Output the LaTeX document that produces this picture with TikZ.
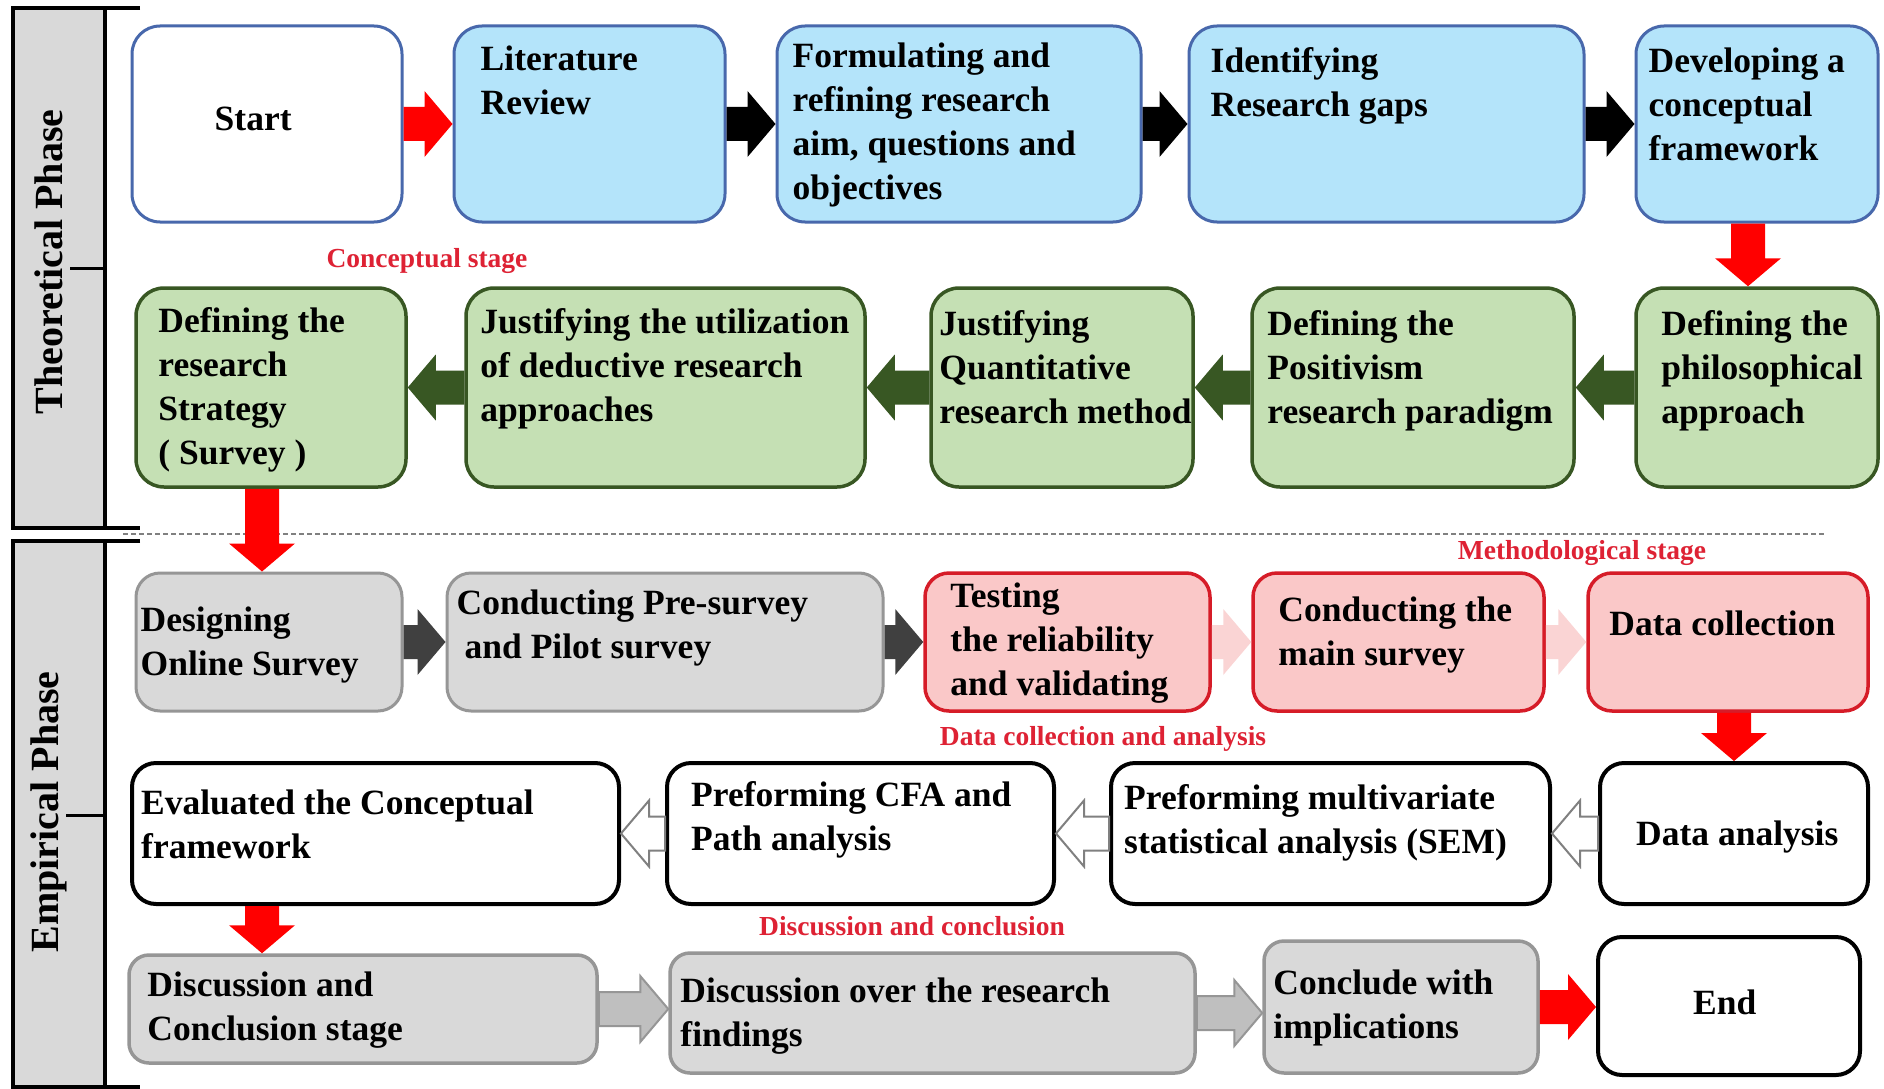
\documentclass[tikz,border=0pt]{standalone}
\usepackage{fontspec}
\setmainfont{Liberation Serif}
\usetikzlibrary{calc}

\definecolor{blueFill}{RGB}{180,228,250}
\definecolor{blueLine}{RGB}{72,104,172}
\definecolor{greenFill}{RGB}{197,224,180}
\definecolor{greenLine}{RGB}{56,87,35}
\definecolor{grayFill}{RGB}{217,217,217}
\definecolor{grayLine}{RGB}{150,150,150}
\definecolor{pinkFill}{RGB}{250,200,200}
\definecolor{pinkLine}{RGB}{214,28,40}
\definecolor{pinkArrow}{RGB}{250,212,212}
\definecolor{stageRed}{RGB}{222,34,52}
\definecolor{arrowRed}{RGB}{255,0,0}
\definecolor{arrowDark}{RGB}{64,64,64}
\definecolor{arrowGray}{RGB}{191,191,191}

% block arrow from #2 to #3 (tip at #3)
\newcommand{\blockarrow}[3][]{%
  \coordinate (ba-s) at (#2);
  \coordinate (ba-t) at (#3);
  \coordinate (ba-m) at ($(ba-t)!28pt!(ba-s)$);
  \path[#1] ($(ba-s)!17pt!90:(ba-t)$) -- ($(ba-m)!17pt!-90:(ba-s)$)
    -- ($(ba-m)!33pt!-90:(ba-s)$) -- (ba-t) -- ($(ba-m)!33pt!90:(ba-s)$)
    -- ($(ba-m)!17pt!90:(ba-s)$) -- ($(ba-s)!17pt!-90:(ba-t)$) -- cycle;
}

\begin{document}
\begin{tikzpicture}[x=1pt, y=-1pt,
    sz/.style 2 args={minimum width=#1pt, minimum height=#2pt, inner sep=0pt},
    txt/.style={anchor=north west, align=left, inner sep=0pt,
      font=\fontsize{35.5}{44}\selectfont\bfseries},
    bluebox/.style={draw=blueLine, fill=blueFill, line width=3pt, rounded corners=28pt},
    greenbox/.style={draw=greenLine, fill=greenFill, line width=3.5pt, rounded corners=28pt},
    graybox/.style={draw=grayLine, fill=grayFill, line width=3pt, rounded corners=24pt},
    pinkbox/.style={draw=pinkLine, fill=pinkFill, line width=3.5pt, rounded corners=24pt},
    whitebox/.style={draw=black, fill=white, line width=4pt, rounded corners=24pt},
    stage/.style={text=stageRed, font=\fontsize{27.5}{30}\selectfont\bfseries},
    phase/.style={rotate=90, font=\fontsize{40}{48}\selectfont\bfseries},
    hollow/.style={draw=gray, fill=white, line width=2pt},
    grayarrow/.style={draw=grayLine, fill=arrowGray, line width=2pt}]

    \path[use as bounding box, fill=white] (0,0) rectangle (1884,1089);

    % phase bars on the left
    \fill[grayFill] (13,8) rectangle (105,528);
    \fill[grayFill] (13,541) rectangle (105,1087);
    \draw[line width=3.5pt] (140,8) -- (13,8) -- (13,528) -- (140,528);
    \draw[line width=3.5pt] (140,541) -- (13,541) -- (13,1087) -- (140,1087);
    \draw[line width=4pt] (105,8) -- (105,528);
    \draw[line width=4pt] (105,541) -- (105,1087);
    \draw[line width=3pt] (70,268) -- (105,268);
    \draw[line width=3pt] (66,815) -- (105,815);
    \node[phase] (theo) at (49,262) {Theoretical Phase};
    \node[phase] (emp) at (49,812) {Empirical Phase};
    \draw[gray, line width=1.5pt, dash pattern=on 5pt off 3pt] (123,534) -- (1826,534);

    % row 1
    \node[bluebox, fill=white, sz={270}{196}, label={[txt, xshift=84pt, yshift=-82pt]north west:{Start}}] (start) at (267,124) {};
    \node[bluebox, sz={271}{196}, label={[txt, xshift=28pt, yshift=-21pt]north west:{Literature\\Review}}] (lit) at (589.5,124) {};
    \node[bluebox, sz={364}{196}, label={[txt, xshift=17pt, yshift=-18pt]north west:{Formulating and\\refining research\\aim, questions and\\objectives}}] (form) at (959,124) {};
    \node[bluebox, sz={395}{196}, label={[txt, xshift=23pt, yshift=-23pt]north west:{Identifying\\Research gaps}}] (ident) at (1386.5,124) {};
    \node[bluebox, sz={242}{196}, label={[txt, xshift=14pt, yshift=-23pt]north west:{Developing a\\conceptual\\framework}}] (dev) at (1757,124) {};

    % row 2
    \node[greenbox, sz={270}{199}, label={[txt, xshift=24pt, yshift=-21pt]north west:{Defining the\\research\\Strategy\\( Survey )}}] (strat) at (271,387.5) {};
    \node[greenbox, sz={399}{199}, label={[txt, xshift=16pt, yshift=-22pt]north west:{Justifying the utilization\\of deductive research\\approaches}}] (deduct) at (665.5,387.5) {};
    \node[greenbox, sz={262}{199}, label={[txt, xshift=10pt, yshift=-24pt]north west:{Justifying\\Quantitative\\research method}}] (quant) at (1062,387.5) {};
    \node[greenbox, sz={322}{199}, label={[txt, xshift=17pt, yshift=-24pt]north west:{Defining the\\Positivism\\research paradigm}}] (posit) at (1413,387.5) {};
    \node[greenbox, sz={242}{199}, label={[txt, xshift=27pt, yshift=-24pt]north west:{Defining the\\philosophical\\approach}}] (philo) at (1757,387.5) {};

    % row 3
    \node[graybox, sz={266}{138}, label={[txt, xshift=6pt, yshift=-35pt]north west:{Designing\\Online Survey}}] (design) at (269,642) {};
    \node[graybox, sz={436}{138}, label={[txt, xshift=11pt, yshift=-18pt]north west:{Conducting Pre-survey\\\hspace*{8pt}and Pilot survey}}] (presurvey) at (665,642) {};
    \node[pinkbox, sz={285}{138}, label={[txt, xshift=27pt, yshift=-11pt]north west:{Testing\\the reliability\\and validating}}] (testing) at (1067.5,642) {};
    \node[pinkbox, sz={291}{138}, label={[txt, xshift=27pt, yshift=-25pt]north west:{Conducting the\\main survey}}] (mainsurv) at (1398.5,642) {};
    \node[pinkbox, sz={280}{138}, label={[txt, xshift=23pt, yshift=-39pt]north west:{Data collection}}] (datacoll) at (1728,642) {};

    % row 4
    \node[whitebox, sz={487}{141}, label={[txt, xshift=11pt, yshift=-29pt]north west:{Evaluated the Conceptual\\framework}}] (evaluated) at (375.5,833.5) {};
    \node[whitebox, sz={387}{141}, label={[txt, xshift=26pt, yshift=-20pt]north west:{Preforming CFA and\\Path analysis}}] (cfa) at (860.5,833.5) {};
    \node[whitebox, sz={439}{141}, label={[txt, xshift=15pt, yshift=-23pt]north west:{Preforming multivariate\\statistical analysis (SEM)}}] (sem) at (1330.5,833.5) {};
    \node[whitebox, sz={268}{141}, label={[txt, xshift=38pt, yshift=-60pt]north west:{Data analysis}}] (analysis) at (1734,833.5) {};

    % row 5
    \node[graybox, rounded corners=20pt, line width=3.5pt, sz={468}{108}, label={[txt, xshift=20pt, yshift=-18pt]north west:{Discussion and\\Conclusion stage}}] (discstage) at (363,1009) {};
    \node[graybox, rounded corners=20pt, line width=3.5pt, sz={525}{120}, label={[txt, xshift=12pt, yshift=-26pt]north west:{Discussion over the research\\findings}}] (findings) at (932.5,1013) {};
    \node[graybox, rounded corners=20pt, line width=3.5pt, sz={274}{132}, label={[txt, xshift=11pt, yshift=-30pt]north west:{Conclude with\\implications}}] (conclude) at (1401,1007) {};
    \node[whitebox, sz={262}{138}, label={[txt, xshift=97pt, yshift=-55pt]north west:{End}}] (finish) at (1729,1006) {};

    % stage captions
    \node[stage] (concept) at (427,261) {Conceptual stage};
    \node[stage] (method) at (1582,553) {Methodological stage};
    \node[stage] (dataca) at (1103,739) {Data collection and analysis};
    \node[stage] (discconc) at (912,926) {Discussion and conclusion};

    % arrows
    \coordinate (colA) at ([xshift=-9pt]strat.south);
    \blockarrow[fill=arrowRed]{start.east}{lit.west}
    \blockarrow[fill=black]{lit.east}{form.west}
    \blockarrow[fill=black]{form.east}{ident.west}
    \blockarrow[fill=black]{ident.east}{dev.west}
    \blockarrow[fill=arrowRed]{[xshift=-9pt]dev.south}{[xshift=-9pt]philo.north} % DOWN
    \blockarrow[fill=greenLine]{philo.west}{posit.east}
    \blockarrow[fill=greenLine]{posit.west}{quant.east}
    \blockarrow[fill=greenLine]{quant.west}{deduct.east}
    \blockarrow[fill=greenLine]{deduct.west}{strat.east}
    \blockarrow[fill=arrowRed]{colA}{colA |- design.north} % DOWN
    \blockarrow[fill=arrowDark]{design.east}{presurvey.west}
    \blockarrow[fill=arrowDark]{presurvey.east}{testing.west}
    \blockarrow[fill=pinkArrow]{testing.east}{mainsurv.west}
    \blockarrow[fill=pinkArrow]{mainsurv.east}{datacoll.west}
    \blockarrow[fill=arrowRed]{analysis.north |- datacoll.south}{analysis.north} % DOWN
    \blockarrow[hollow]{analysis.west}{analysis.west -| sem.east}
    \blockarrow[hollow]{sem.west}{sem.west -| cfa.east}
    \blockarrow[hollow]{cfa.west}{cfa.west -| evaluated.east}
    \blockarrow[fill=arrowRed]{evaluated.south -| colA}{discstage.north -| colA} % DOWN
    \blockarrow[grayarrow]{discstage.east}{discstage.east -| findings.west}
    \blockarrow[grayarrow]{findings.east}{findings.east -| conclude.west}
    \blockarrow[fill=arrowRed]{conclude.east}{conclude.east -| finish.west}
\end{tikzpicture}
\end{document}
